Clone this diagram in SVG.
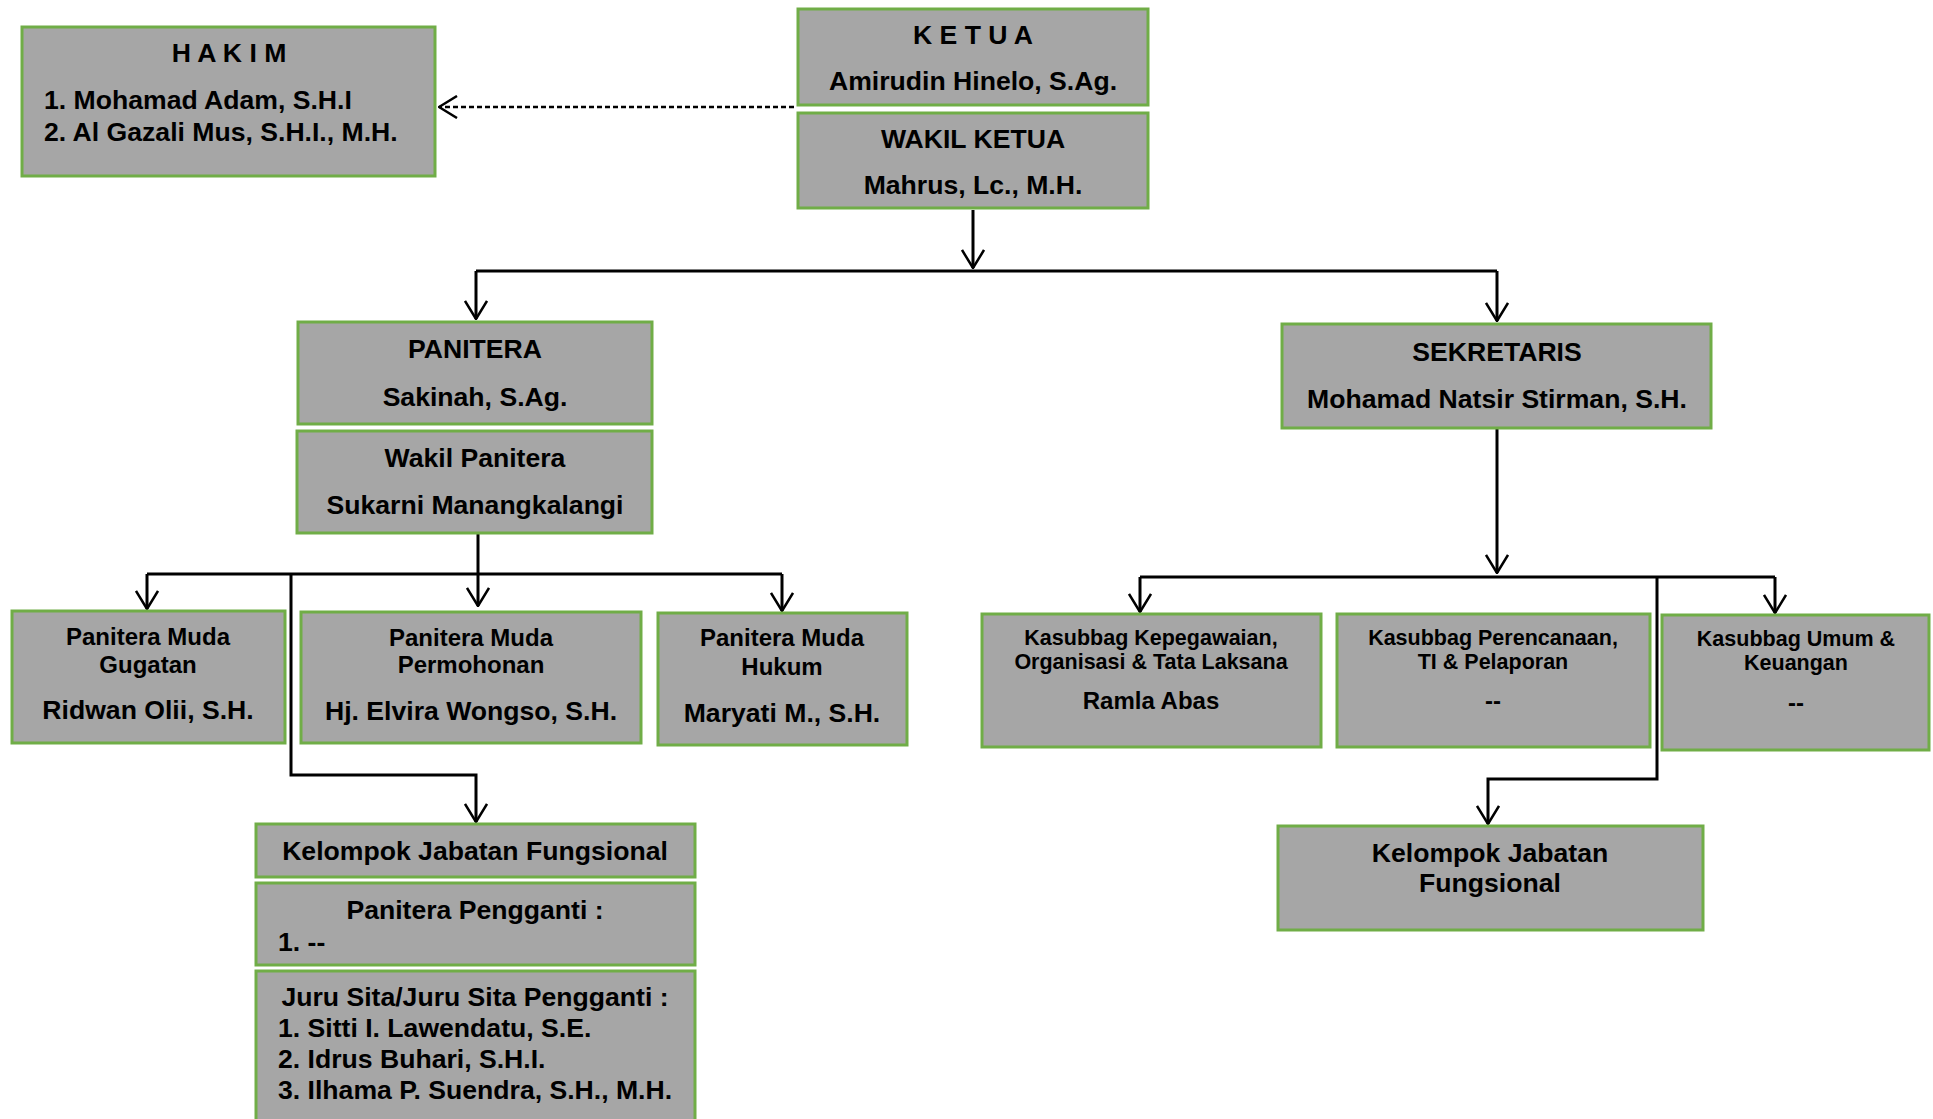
<svg xmlns="http://www.w3.org/2000/svg" width="1933" height="1119" viewBox="0 0 1933 1119">
<style>
.box{fill:#A6A6A6;stroke:#70AD47;stroke-width:3}
text{font-family:"Liberation Sans",Arial,sans-serif;font-weight:bold;fill:#000}
.c{text-anchor:middle}
.f26{font-size:26.6px}
.f23{font-size:24px}
.f21{font-size:21.5px}
.f24{font-size:24px}
.ln{fill:none;stroke:#000;stroke-width:3}
.dash{fill:none;stroke:#000;stroke-width:2.5;stroke-dasharray:5 3}
</style>
<defs>
<marker id="arr" markerUnits="userSpaceOnUse" viewBox="0 0 20 24" refX="19" refY="12" markerWidth="20" markerHeight="24" orient="auto">
<path d="M1,1 L19,12 L1,23" fill="none" stroke="#000" stroke-width="2.5"/>
</marker>
</defs>
<rect width="1933" height="1119" fill="#fff"/>
<g id="connectors">
<path class="dash" d="M794,107 H439" marker-end="url(#arr)"/>
<path class="ln" d="M973,210 V268" marker-end="url(#arr)"/>
<path class="ln" d="M476,271 H1497"/>
<path class="ln" d="M476,271 V319" marker-end="url(#arr)"/>
<path class="ln" d="M1497,271 V321" marker-end="url(#arr)"/>
<path class="ln" d="M478,534 V606" marker-end="url(#arr)"/>
<path class="ln" d="M147,574 H782"/>
<path class="ln" d="M147,574 V609" marker-end="url(#arr)"/>
<path class="ln" d="M782,574 V611" marker-end="url(#arr)"/>
<path class="ln" d="M291,574 V775 H476 V822" marker-end="url(#arr)"/>
<path class="ln" d="M1497,429 V573" marker-end="url(#arr)"/>
<path class="ln" d="M1140,577 H1775"/>
<path class="ln" d="M1140,577 V612" marker-end="url(#arr)"/>
<path class="ln" d="M1775,577 V613" marker-end="url(#arr)"/>
<path class="ln" d="M1657,577 V779 H1488 V824" marker-end="url(#arr)"/>
</g>
<g id="ketua">
<rect class="box" x="798" y="9" width="350" height="96"/>
<text class="c f26" x="973" y="44">K E T U A</text>
<text class="c f26" x="973" y="90">Amirudin Hinelo, S.Ag.</text>
</g>
<g id="wakil-ketua">
<rect class="box" x="798" y="113" width="350" height="95"/>
<text class="c f26" x="973" y="148">WAKIL KETUA</text>
<text class="c f26" x="973" y="194">Mahrus, Lc., M.H.</text>
</g>
<g id="hakim">
<rect class="box" x="22" y="27" width="413" height="149"/>
<text class="c f26" x="229" y="62">H A K I M</text>
<text class="f26" x="44" y="109">1. Mohamad Adam, S.H.I</text>
<text class="f26" x="44" y="141">2. Al Gazali Mus, S.H.I., M.H.</text>
</g>
<g id="panitera">
<rect class="box" x="298" y="322" width="354" height="102"/>
<text class="c f26" x="475" y="358">PANITERA</text>
<text class="c f26" x="475" y="406">Sakinah, S.Ag.</text>
</g>
<g id="wakil-panitera">
<rect class="box" x="297" y="431" width="355" height="102"/>
<text class="c f26" x="475" y="467">Wakil Panitera</text>
<text class="c f26" x="475" y="514">Sukarni Manangkalangi</text>
</g>
<g id="pm-gugatan">
<rect class="box" x="12" y="611" width="273" height="132"/>
<text class="c f23" x="148" y="645">Panitera Muda</text>
<text class="c f23" x="148" y="673">Gugatan</text>
<text class="c f26" x="148" y="719">Ridwan Olii, S.H.</text>
</g>
<g id="pm-permohonan">
<rect class="box" x="301" y="612" width="340" height="131"/>
<text class="c f23" x="471" y="646">Panitera Muda</text>
<text class="c f23" x="471" y="673">Permohonan</text>
<text class="c f26" x="471" y="720">Hj. Elvira Wongso, S.H.</text>
</g>
<g id="pm-hukum">
<rect class="box" x="658" y="613" width="249" height="132"/>
<text class="c f23" x="782" y="646">Panitera Muda</text>
<text class="c f23" x="782" y="675">Hukum</text>
<text class="c f26" x="782" y="722">Maryati M., S.H.</text>
</g>
<g id="kjf-left">
<rect class="box" x="256" y="824" width="439" height="53"/>
<text class="c f26" x="475" y="860">Kelompok Jabatan Fungsional</text>
</g>
<g id="panitera-pengganti">
<rect class="box" x="256" y="883" width="439" height="82"/>
<text class="c f26" x="475" y="919">Panitera Pengganti :</text>
<text class="f26" x="278" y="951">1. --</text>
</g>
<g id="juru-sita">
<rect class="box" x="256" y="971" width="439" height="170"/>
<text class="c f26" x="475" y="1006">Juru Sita/Juru Sita Pengganti :</text>
<text class="f26" x="278" y="1037">1. Sitti I. Lawendatu, S.E.</text>
<text class="f26" x="278" y="1068">2. Idrus Buhari, S.H.I.</text>
<text class="f26" x="278" y="1099">3. Ilhama P. Suendra, S.H., M.H.</text>
</g>
<g id="sekretaris">
<rect class="box" x="1282" y="324" width="429" height="104"/>
<text class="c f26" x="1497" y="361">SEKRETARIS</text>
<text class="c f26" x="1497" y="408">Mohamad Natsir Stirman, S.H.</text>
</g>
<g id="kasubbag-kepegawaian">
<rect class="box" x="982" y="614" width="339" height="133"/>
<text class="c f21" x="1151" y="645">Kasubbag Kepegawaian,</text>
<text class="c f21" x="1151" y="669">Organisasi &amp; Tata Laksana</text>
<text class="c f24" x="1151" y="709">Ramla Abas</text>
</g>
<g id="kasubbag-perencanaan">
<rect class="box" x="1337" y="614" width="313" height="133"/>
<text class="c f21" x="1493" y="645">Kasubbag Perencanaan,</text>
<text class="c f21" x="1493" y="669">TI &amp; Pelaporan</text>
<text class="c f24" x="1493" y="709">--</text>
</g>
<g id="kasubbag-umum">
<rect class="box" x="1662" y="615" width="267" height="135"/>
<text class="c f21" x="1796" y="646">Kasubbag Umum &amp;</text>
<text class="c f21" x="1796" y="670">Keuangan</text>
<text class="c f24" x="1796" y="711">--</text>
</g>
<g id="kjf-right">
<rect class="box" x="1278" y="826" width="425" height="104"/>
<text class="c f26" x="1490" y="862">Kelompok Jabatan</text>
<text class="c f26" x="1490" y="892">Fungsional</text>
</g>
</svg>
